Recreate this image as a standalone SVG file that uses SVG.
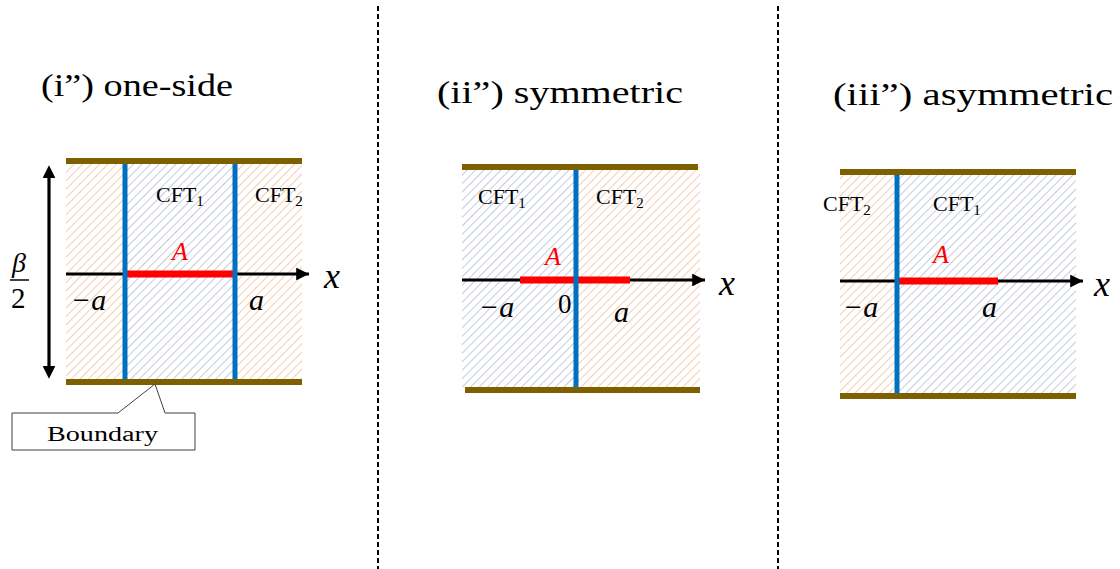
<svg xmlns="http://www.w3.org/2000/svg" width="1120" height="569" viewBox="0 0 1120 569">
  <defs>
    <pattern id="hatchO" patternUnits="userSpaceOnUse" width="6" height="6" patternTransform="rotate(45)">
      <line x1="0" y1="0" x2="0" y2="6" stroke="#f2c4a5" stroke-width="1.7"/>
    </pattern>
    <pattern id="hatchB" patternUnits="userSpaceOnUse" width="6" height="6" patternTransform="rotate(45)">
      <line x1="0" y1="0" x2="0" y2="6" stroke="#b9c2d6" stroke-width="1.7"/>
    </pattern>
    <marker id="arr" viewBox="0 0 10 10" refX="10" refY="5" markerWidth="4.4" markerHeight="4" markerUnits="strokeWidth" orient="auto">
      <path d="M0,0 L10,5 L0,10 Z" fill="#000"/>
    </marker>
    <marker id="arrS" viewBox="0 0 10 10" refX="0" refY="5" markerWidth="5" markerHeight="4" markerUnits="strokeWidth" orient="auto-start-reverse">
      <path d="M0,0 L10,5 L0,10 Z" fill="#000"/>
    </marker>
  </defs>
  <style>
    .title { font-family: "Liberation Serif", serif; font-size: 32px; fill: #000; }
    .cft { font-family: "Liberation Serif", serif; font-size: 22px; fill: #000; }
    .sub { font-size: 15px; }
    .math { font-family: "Liberation Serif", serif; font-style: italic; fill: #000; }
    .mA { font-family: "Liberation Serif", serif; font-style: italic; font-size: 26px; fill: #ff0000; }
    .brown { stroke: #7f6000; stroke-width: 6; }
    .blue { stroke: #0070c0; stroke-width: 5; }
    .red { stroke: #ff0000; stroke-width: 7; }
    .axis { stroke: #000; stroke-width: 3.2; fill: none; }
    .sep { stroke: #000; stroke-width: 2; stroke-dasharray: 5 3; }
  </style>

  <g id="separators">
    <line class="sep" x1="378" y1="6" x2="378" y2="569"/>
    <line class="sep" x1="778" y1="6" x2="778" y2="569"/>
  </g>

  <!-- Panel i -->
  <g id="panel1">
    <text class="title" x="41" y="96" textLength="192" lengthAdjust="spacingAndGlyphs">(i”) one-side</text>
    <rect x="66" y="161" width="58" height="221" fill="url(#hatchO)"/>
    <rect x="125" y="161" width="110" height="221" fill="url(#hatchB)"/>
    <rect x="235" y="161" width="67" height="221" fill="url(#hatchO)"/>
    <line class="axis" x1="66" y1="274" x2="309" y2="274" marker-end="url(#arr)"/>
    <line class="red" x1="125" y1="274" x2="233" y2="274"/>
    <line class="blue" x1="125" y1="163" x2="125" y2="380"/>
    <line class="blue" x1="235" y1="163" x2="235" y2="380"/>
    <line class="brown" x1="66" y1="161" x2="302" y2="161"/>
    <line class="brown" x1="66" y1="382" x2="302" y2="382"/>
    <text class="cft" x="156" y="202">CFT<tspan class="sub" dy="4">1</tspan></text>
    <text class="cft" x="255" y="202">CFT<tspan class="sub" dy="4">2</tspan></text>
    <text class="mA" x="172" y="260">A</text>
    <text class="math" font-size="30" x="71" y="310">−a</text>
    <text class="math" font-size="30" x="249" y="310">a</text>
    <text class="math" font-size="36" x="324" y="288">x</text>
  </g>

  <g id="height-arrow">
    <line class="axis" x1="49" y1="178" x2="49" y2="366" marker-start="url(#arrS)" marker-end="url(#arrS)"/>
    <text class="math" font-size="28" x="12" y="272">β</text>
    <line x1="10" y1="280" x2="29" y2="280" stroke="#000" stroke-width="1.5"/>
    <text x="11" y="308" font-family="Liberation Serif, serif" font-size="29">2</text>
  </g>

  <g id="boundary-callout">
    <path d="M12,413 L118,413 L155,384 L165,413 L195,413 L195,450 L12,450 Z" fill="#fff" stroke="#404040" stroke-width="1"/>
    <text x="47" y="441" font-family="Liberation Serif, serif" font-size="20" textLength="111" lengthAdjust="spacingAndGlyphs">Boundary</text>
  </g>

  <!-- Panel ii -->
  <g id="panel2">
    <text class="title" x="437" y="103" textLength="246" lengthAdjust="spacingAndGlyphs">(ii”) symmetric</text>
    <rect x="462" y="167" width="114" height="223" fill="url(#hatchB)"/>
    <rect x="576" y="167" width="124" height="223" fill="url(#hatchO)"/>
    <line class="axis" x1="462" y1="280" x2="705" y2="280" marker-end="url(#arr)"/>
    <line class="red" x1="520" y1="280" x2="630" y2="280"/>
    <line class="blue" x1="576" y1="169" x2="576" y2="388"/>
    <line class="brown" x1="462" y1="167" x2="698" y2="167"/>
    <line class="brown" x1="465" y1="390" x2="700" y2="390"/>
    <text class="cft" x="478" y="204">CFT<tspan class="sub" dy="4">1</tspan></text>
    <text class="cft" x="596" y="204">CFT<tspan class="sub" dy="4">2</tspan></text>
    <text class="mA" x="545" y="265">A</text>
    <text class="math" font-size="30" x="479" y="317">−a</text>
    <text x="558" y="313" font-family="Liberation Serif, serif" font-size="27">0</text>
    <text class="math" font-size="30" x="614" y="322">a</text>
    <text class="math" font-size="36" x="719" y="295">x</text>
  </g>

  <!-- Panel iii -->
  <g id="panel3">
    <text class="title" x="833" y="105" textLength="280" lengthAdjust="spacingAndGlyphs">(iii”) asymmetric</text>
    <rect x="840" y="172" width="57" height="224" fill="url(#hatchO)"/>
    <rect x="897" y="172" width="179" height="224" fill="url(#hatchB)"/>
    <line class="axis" x1="840" y1="281" x2="1083" y2="281" marker-end="url(#arr)"/>
    <line class="red" x1="897" y1="281" x2="998" y2="281"/>
    <line class="blue" x1="897" y1="174" x2="897" y2="394"/>
    <line class="brown" x1="840" y1="172" x2="1076" y2="172"/>
    <line class="brown" x1="840" y1="396" x2="1076" y2="396"/>
    <text class="cft" x="823" y="211">CFT<tspan class="sub" dy="4">2</tspan></text>
    <text class="cft" x="933" y="211">CFT<tspan class="sub" dy="4">1</tspan></text>
    <text class="mA" x="933" y="263">A</text>
    <text class="math" font-size="30" x="843" y="317">−a</text>
    <text class="math" font-size="30" x="982" y="317">a</text>
    <text class="math" font-size="36" x="1094" y="296">x</text>
  </g>
</svg>
